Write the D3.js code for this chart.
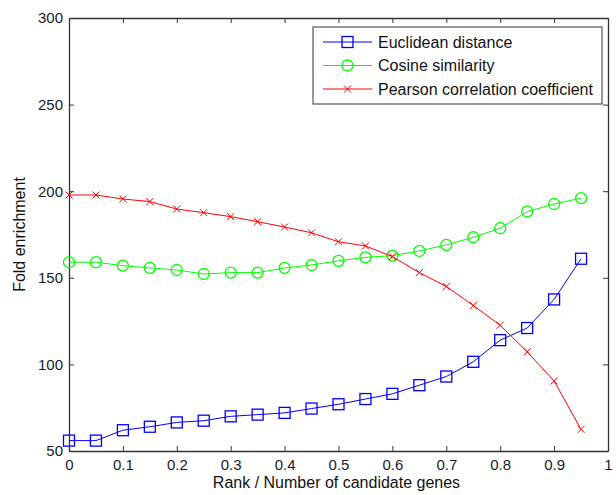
<!DOCTYPE html>
<html lang="en">
<head>
<meta charset="utf-8">
<title>Fold enrichment</title>
<script src="https://cdnjs.cloudflare.com/ajax/libs/d3/7.8.5/d3.min.js"></script>
<style>
body { margin: 0; background: #fff; }
svg { display: block; font-family: "Liberation Sans", Arial, sans-serif; }
</style>
</head>
<body>
<script>
// data
var rank = [0, 0.05, 0.1, 0.15, 0.2, 0.25, 0.3, 0.35, 0.4, 0.45, 0.5, 0.55, 0.6, 0.65, 0.7, 0.75, 0.8, 0.85, 0.9, 0.95];
var euclidean = [56, 56, 62, 64, 66.5, 67.5, 70, 71, 72, 74.5, 77, 80, 83, 88, 93, 101.5, 114, 121, 137.5, 161];
var cosine = [159, 159, 157, 155.7, 154.5, 152.2, 153, 153, 155.7, 157.4, 159.8, 161.8, 162.8, 165.5, 169, 173.4, 178.6, 188.2, 192.6, 196];
var pearson = [197.8, 197.8, 195.5, 194, 189.7, 187.6, 185.3, 182.4, 179.3, 176, 170.8, 168.4, 162.2, 153, 145, 134, 122.6, 107.3, 90.4, 62.5];
var seriesNames = ["Euclidean distance", "Cosine similarity", "Pearson correlation coefficient"];
var seriesColors = ["#0000ff", "#00ff00", "#ff0000"];
var xTicks = [0, 0.1, 0.2, 0.3, 0.4, 0.5, 0.6, 0.7, 0.8, 0.9, 1];
var yTicks = [50, 100, 150, 200, 250, 300];

var w = 616, h = 495;
// plot box (window.top is reserved, so use other names)
var plotL = 69, plotR = 608, plotT = 18, plotB = 451;

var svg = d3.select("body").append("svg")
    .attr("width", w).attr("height", h);

var x = d3.scaleLinear().domain([0, 1]).range([plotL, plotR]);
var y = d3.scaleLinear().domain([50, 300]).range([plotB, plotT]);

var axisColor = "#333";
var fmt = function(d) { return String(d); };

// axes, ticks pointing inward
var gb = svg.append("g").attr("transform", "translate(0," + plotB + ")")
    .call(d3.axisBottom(x).tickValues(xTicks).tickFormat(fmt).tickSizeInner(-5).tickSizeOuter(0).tickPadding(8));
var gt = svg.append("g").attr("transform", "translate(0," + plotT + ")")
    .call(d3.axisTop(x).tickValues(xTicks).tickFormat("").tickSizeInner(-5).tickSizeOuter(0));
var gl = svg.append("g").attr("transform", "translate(" + plotL + ",0)")
    .call(d3.axisLeft(y).tickValues(yTicks).tickSizeInner(-5).tickSizeOuter(0).tickPadding(6));
var gr = svg.append("g").attr("transform", "translate(" + plotR + ",0)")
    .call(d3.axisRight(y).tickValues(yTicks).tickFormat("").tickSizeInner(-5).tickSizeOuter(0));

[gb, gt, gl, gr].forEach(function(g) {
    g.selectAll("path.domain").attr("stroke", axisColor).attr("stroke-width", 1.3);
    g.selectAll(".tick line").attr("stroke", axisColor);
    g.selectAll(".tick text").attr("font-size", 15).attr("fill", "#1a1a2e")
        .attr("font-family", "Liberation Sans, Arial, sans-serif");
});

// axis titles
svg.append("text").attr("x", (plotL + plotR) / 2 - 2).attr("y", 488)
    .attr("text-anchor", "middle").attr("font-size", 16).attr("fill", "#111")
    .text("Rank / Number of candidate genes");
svg.append("text").attr("transform", "translate(25," + ((plotT + plotB) / 2) + ") rotate(-90)")
    .attr("text-anchor", "middle").attr("font-size", 16).attr("fill", "#111")
    .text("Fold enrichment");

var allSeries = [euclidean, cosine, pearson];
var line = d3.line().x(function(d, i) { return x(rank[i]); }).y(function(d) { return y(d); });

function drawMarker(g, kind, cx, cy, color) {
    if (kind === 0) {
        g.append("rect").attr("x", cx - 5.5).attr("y", cy - 5.5).attr("width", 11).attr("height", 11)
            .attr("fill", "none").attr("stroke", color).attr("stroke-width", 1.3);
    } else if (kind === 1) {
        g.append("circle").attr("cx", cx).attr("cy", cy).attr("r", 5.5)
            .attr("fill", "none").attr("stroke", color).attr("stroke-width", 1.3);
    } else {
        g.append("path").attr("d", "M" + (cx - 3.5) + "," + (cy - 3.5) + "L" + (cx + 3.5) + "," + (cy + 3.5) +
            "M" + (cx - 3.5) + "," + (cy + 3.5) + "L" + (cx + 3.5) + "," + (cy - 3.5))
            .attr("stroke", color).attr("stroke-width", 1);
    }
}

allSeries.forEach(function(vals, k) {
    var g = svg.append("g");
    g.append("path").datum(vals).attr("d", line)
        .attr("fill", "none").attr("stroke", seriesColors[k]).attr("stroke-width", 1);
    vals.forEach(function(v, i) { drawMarker(g, k, x(rank[i]), y(v), seriesColors[k]); });
});

// legend
var lg = svg.append("g");
lg.append("rect").attr("x", 313).attr("y", 27).attr("width", 289).attr("height", 77)
    .attr("fill", "#fff").attr("stroke", "#333").attr("stroke-width", 1);
seriesNames.forEach(function(name, k) {
    var ly = 42 + k * 23.5;
    lg.append("line").attr("x1", 323).attr("x2", 372).attr("y1", ly).attr("y2", ly)
        .attr("stroke", seriesColors[k]).attr("stroke-width", 1);
    drawMarker(lg, k, 347.5, ly, seriesColors[k]);
    lg.append("text").attr("x", 378).attr("y", ly + 5.5).attr("font-size", 16).attr("fill", "#111")
        .text(name);
});
</script>
</body>
</html>
